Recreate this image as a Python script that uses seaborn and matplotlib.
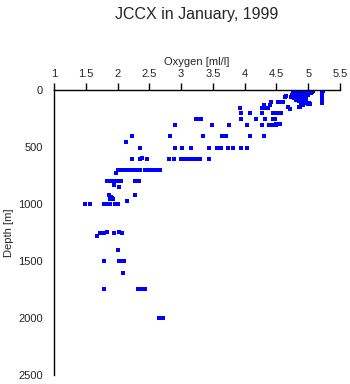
import matplotlib
matplotlib.use("Agg")
import matplotlib.pyplot as plt
import seaborn as sns
import pandas as pd

# Oxygen [ml/l] and depth [m] readings
oxygen = [
    # deep / mid-depth samples
    1.49, 1.56, 1.79, 1.82, 1.85, 1.88, 1.96, 1.98, 2.00, 2.15, 1.93,
    1.87, 1.89, 1.91, 1.88, 2.28, 2.03, 1.95,
    1.83, 1.86, 1.90, 1.94, 1.98, 2.02, 2.06, 2.27, 2.30, 2.34,
    1.97, 2.01, 2.05, 2.09, 2.13, 2.16, 2.21, 2.25, 2.29, 2.35,
    2.43, 2.47, 2.51, 2.55, 2.60, 2.66,
    2.22, 2.35, 2.38, 2.46, 2.81, 2.89,
    2.36, 2.91, 2.14, 2.22, 2.83, 2.91,
    1.67, 1.72, 1.75, 1.79, 1.84, 1.95, 2.03, 2.07,
    2.00, 1.78, 2.02, 2.05, 2.08, 2.10, 2.08, 1.79,
    2.32, 2.36, 2.40, 2.43, 2.65, 2.68, 2.72,
    # upper 600 m
    3.00, 3.05, 3.10, 3.15, 3.20, 3.25, 3.30, 3.44,
    3.02, 3.16, 3.44, 3.56, 3.62, 3.74, 3.82, 3.94, 4.03,
    2.82, 3.35, 3.65, 3.71, 4.08, 4.30,
    3.49, 3.76, 4.04, 4.27, 4.38, 4.42, 4.46, 4.50,
    3.24, 3.28, 3.31, 3.95, 4.18, 4.32, 4.45, 4.47, 4.50, 4.55,
    3.94, 4.08, 4.28, 4.45, 4.49, 4.53, 4.57,
    3.93, 4.27, 4.30, 4.32, 4.37, 4.47, 4.52, 4.58,
    4.30, 4.40, 4.42, 4.52, 4.56, 4.60, 4.68, 4.71, 4.65, 4.63,
    # dense surface cluster
    4.78, 4.80, 4.82, 4.85, 4.88, 4.90, 4.93, 4.96, 5.00, 5.03, 5.06,
    4.80, 4.83, 4.86, 4.89, 4.92, 4.95, 4.98, 5.01, 5.04,
    4.79, 4.82, 4.85, 4.88, 4.91, 4.94, 4.97, 5.00,
    4.84, 4.87, 4.90, 4.93, 4.96, 4.81, 4.86, 4.89, 4.92, 4.95,
    4.99, 5.02, 5.03, 4.88, 4.91, 4.75, 4.73, 4.87, 4.85, 4.97,
    4.76, 4.77, 4.84, 4.91, 4.94, 4.98, 5.05, 5.07,
    5.21, 5.21, 5.21, 5.21, 5.21, 5.21, 5.21, 5.21, 5.21, 5.22, 5.24, 5.22,
]
depth = [
    1000, 1000, 1000, 1000, 1000, 1000, 1000, 1000, 1000, 977, 959,
    920, 935, 950, 955, 920, 854, 834,
    798, 798, 798, 798, 798, 798, 798, 798, 798, 798,
    731, 702, 702, 702, 702, 702, 702, 702, 702, 702,
    702, 702, 702, 702, 702, 702,
    608, 608, 600, 608, 608, 608,
    506, 506, 456, 401, 405, 307,
    1281, 1257, 1257, 1257, 1246, 1251, 1248, 1257,
    1404, 1503, 1500, 1500, 1500, 1500, 1608, 1749,
    1749, 1749, 1749, 1749, 2003, 2003, 2003,
    605, 605, 605, 605, 605, 605, 605, 605,
    506, 506, 506, 506, 506, 506, 506, 506, 506,
    406, 406, 406, 406, 406, 406,
    310, 310, 310, 310, 310, 310, 310, 310,
    257, 257, 257, 257, 257, 257, 257, 257, 301, 301,
    205, 205, 205, 205, 205, 205, 199,
    158, 158, 158, 158, 158, 199, 105, 105,
    132, 132, 108, 108, 108, 108, 146, 164, 53, 60,
    10, 20, 15, 10, 12, 18, 10, 14, 10, 12, 15,
    35, 40, 30, 45, 35, 40, 30, 25, 30,
    55, 60, 50, 65, 55, 60, 50, 45,
    75, 80, 70, 85, 75, 90, 100, 95, 105, 110,
    120, 115, 126, 120, 130, 45, 60, 146, 150, 103,
    25, 70, 5, 5, 20, 5, 20, 8,
    5, 15, 25, 35, 45, 55, 65, 75, 85, 95, 5, 112,
]

xticks = [1, 1.5, 2, 2.5, 3, 3.5, 4, 4.5, 5, 5.5]
xticklabels = ["1", "1.5", "2", "2.5", "3", "3.5", "4", "4.5", "5", "5.5"]
yticks = [0, 500, 1000, 1500, 2000, 2500]

df = pd.DataFrame({"Oxygen": oxygen, "Depth": depth})

sns.set_style("white")
plt.rcParams["font.family"] = ["Liberation Sans", "DejaVu Sans"]

fig = plt.figure(figsize=(3.5, 3.84), dpi=100)
ax = fig.add_axes([54 / 350, 1 - 375 / 384, (340 - 54) / 350, (375 - 90) / 384])

sns.scatterplot(data=df, x="Oxygen", y="Depth", ax=ax, color="#0000ff",
                marker="s", s=5, linewidth=0, legend=False)

ax.set_xlim(1, 5.5)
ax.set_ylim(2500, 0)
ax.xaxis.tick_top()
ax.xaxis.set_label_position("top")
ax.set_xticks(xticks)
ax.set_xticklabels(xticklabels)
ax.set_yticks(yticks)
ax.tick_params(axis="both", direction="out", length=5, width=1, color="black",
               labelsize=8, pad=3)
for side in ("right", "bottom"):
    ax.spines[side].set_visible(False)
for side in ("top", "left"):
    ax.spines[side].set_color("black")
    ax.spines[side].set_linewidth(1)

ax.set_xlabel("Oxygen [ml/l]", fontsize=8, labelpad=3)
ax.set_ylabel("Depth [m]", fontsize=8, labelpad=3)
fig.text(197 / 350, 1 - 15 / 384, "JCCX in January, 1999", ha="center",
         va="center", fontsize=11.5)

fig.savefig("out.png", dpi=100)
